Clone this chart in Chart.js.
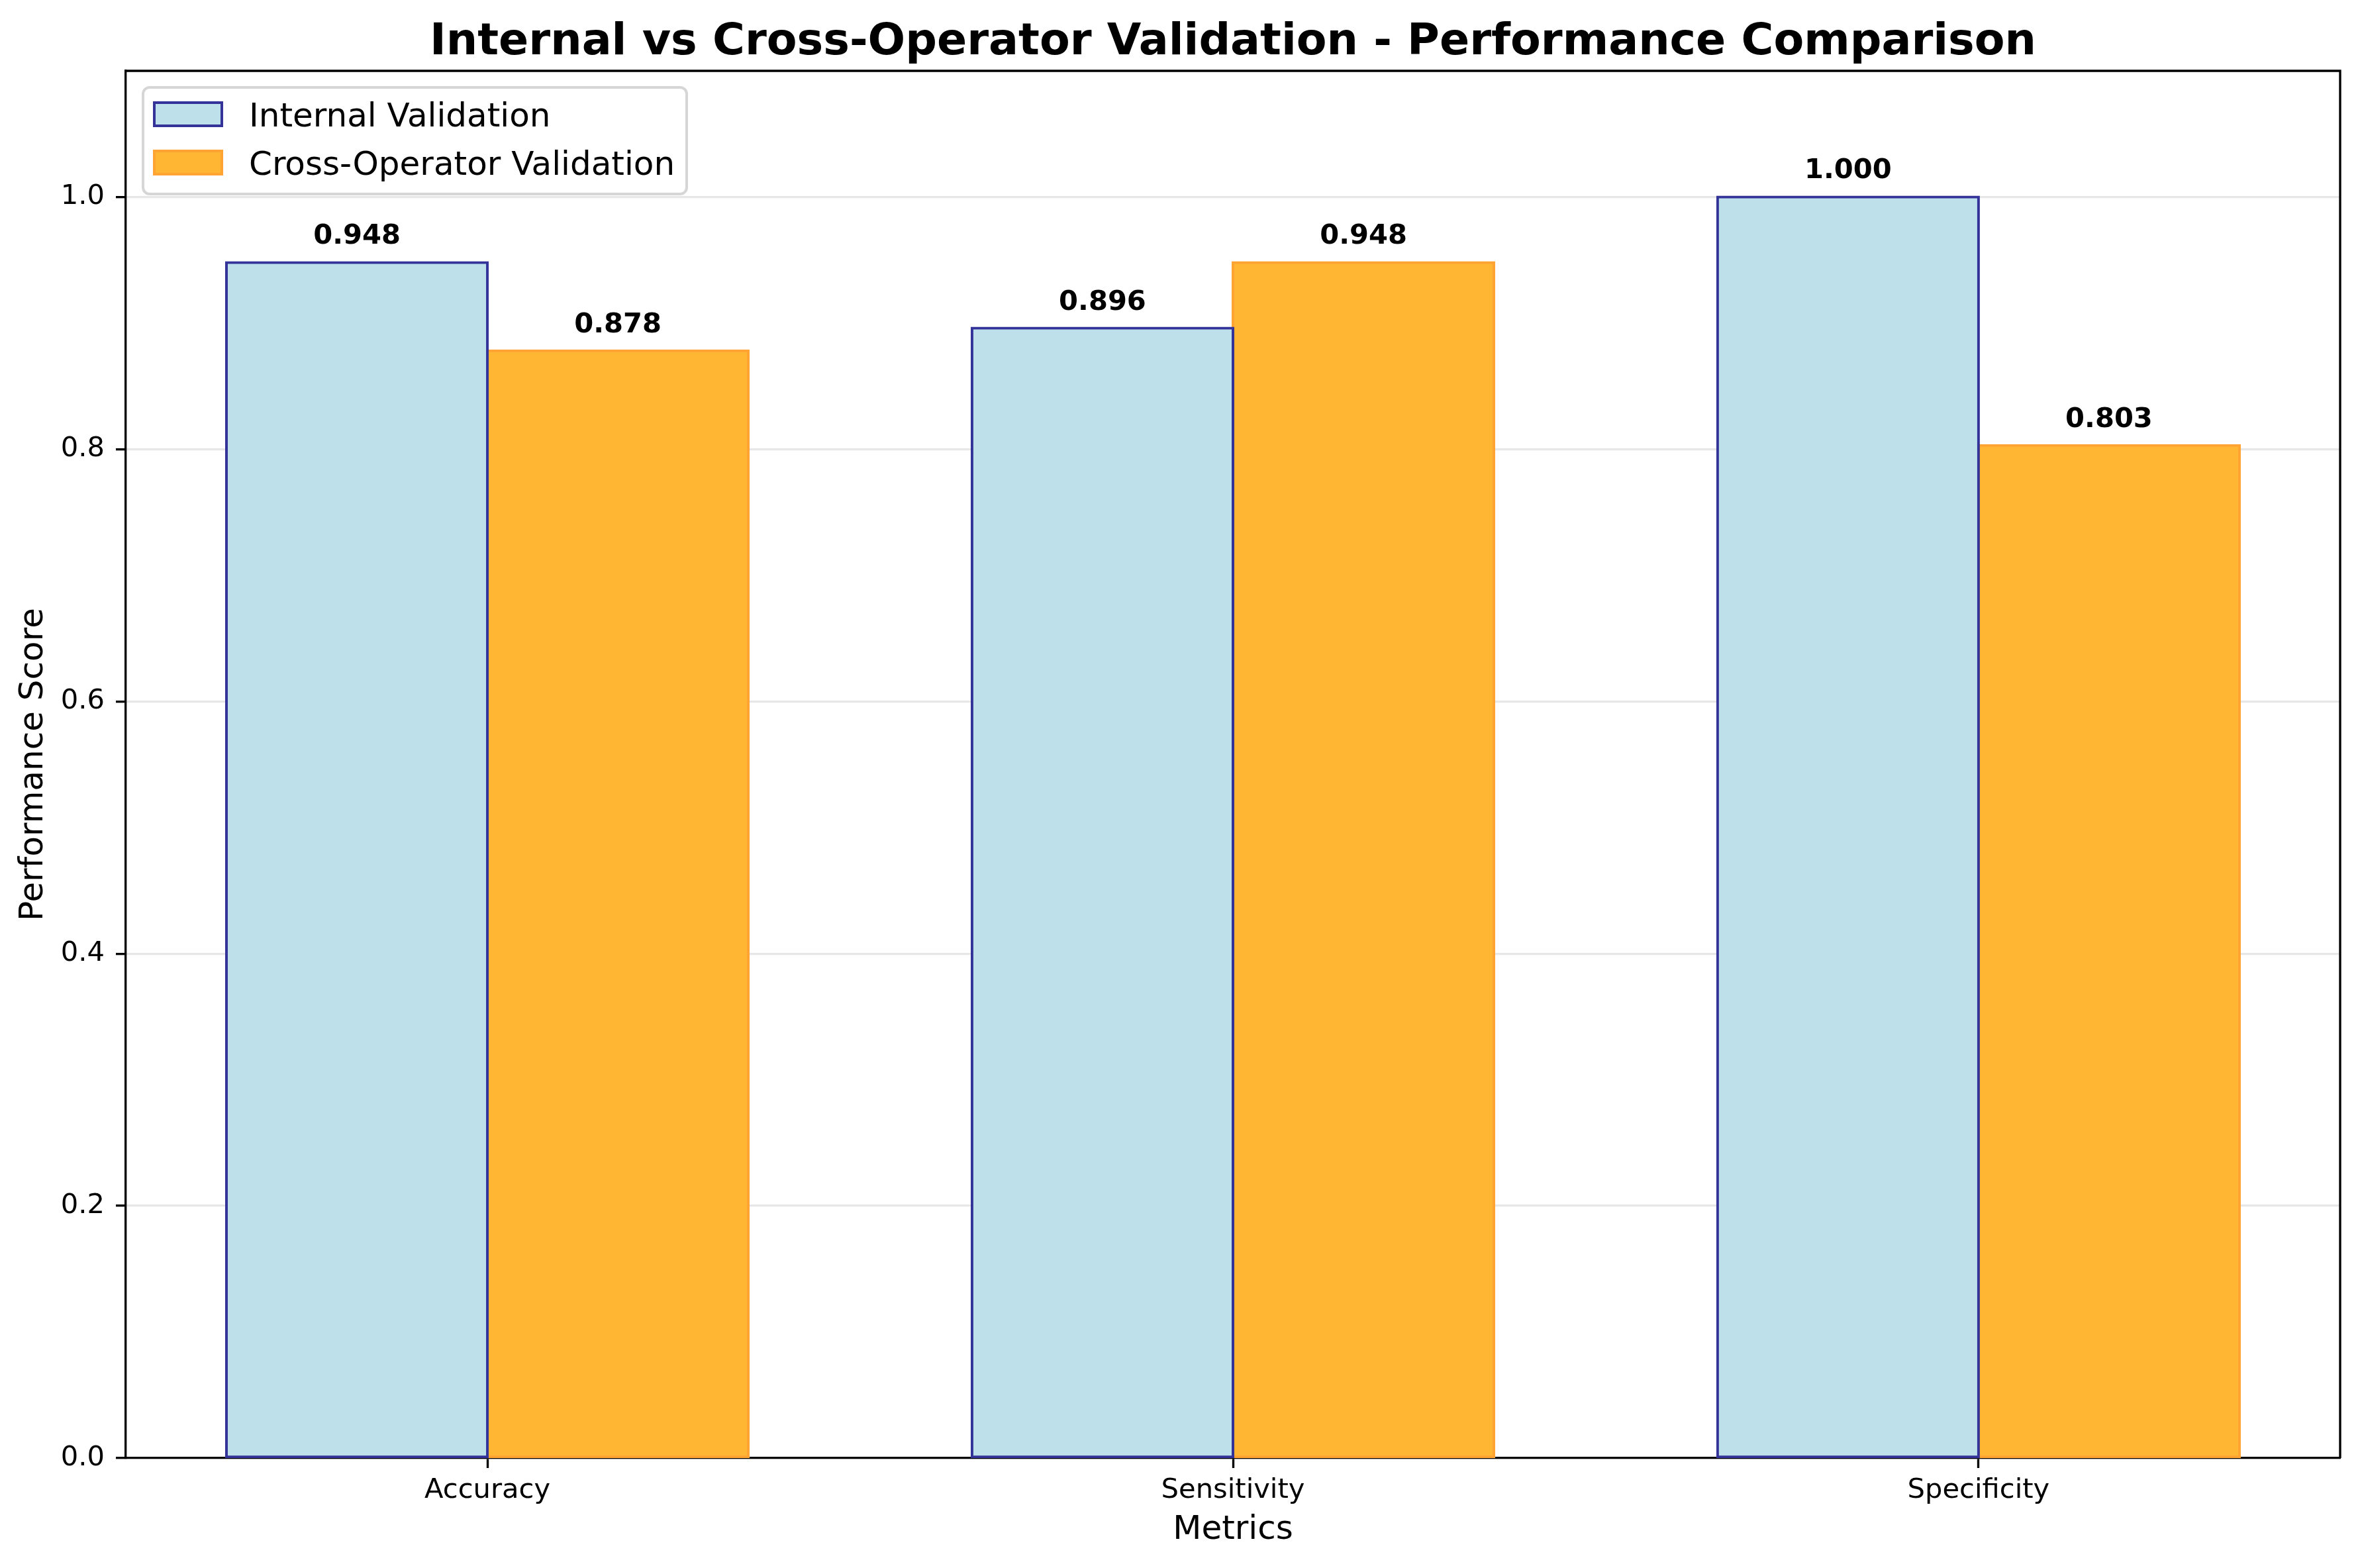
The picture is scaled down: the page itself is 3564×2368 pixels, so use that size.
<!DOCTYPE html>
<html><head><meta charset="utf-8">
<script src="https://cdn.jsdelivr.net/npm/chart.js@4.4.1/dist/chart.umd.min.js"></script>
<style>html,body{margin:0;padding:0;background:#fff;} canvas{display:block;}</style>
</head><body>
<canvas id="c" width="3564" height="2368" style="width:3564px;height:2368px"></canvas>
<script>
const titleText = 'Internal vs Cross-Operator Validation - Performance Comparison';
const categories = ['Accuracy', 'Sensitivity', 'Specificity'];
const internalValues = [0.948, 0.896, 1.000];
const crossValues = [0.878, 0.948, 0.803];
const seriesNames = ['Internal Validation', 'Cross-Operator Validation'];
const yTickValues = [0.0, 0.2, 0.4, 0.6, 0.8, 1.0];

const PT = 300 / 72;
const FONT = "'DejaVu Sans', sans-serif";

const overlay = {
  id: 'overlay',
  afterDraw(chart) {
    const ctx = chart.ctx, a = chart.chartArea;
    ctx.save();
    // top & right spines
    ctx.strokeStyle = '#000'; ctx.lineWidth = 0.8 * PT;
    ctx.beginPath(); ctx.moveTo(a.left, a.top); ctx.lineTo(a.right, a.top); ctx.lineTo(a.right, a.bottom); ctx.stroke();
    // value labels
    ctx.fillStyle = '#000'; ctx.textAlign = 'center'; ctx.textBaseline = 'alphabetic';
    ctx.font = `bold ${10 * PT}px ${FONT}`;
    chart.data.datasets.forEach((ds, di) => {
      const ys = chart.scales.y;
      chart.getDatasetMeta(di).data.forEach((bar, i) => {
        ctx.fillText(ds.data[i].y.toFixed(3), bar.x, ys.getPixelForValue(ds.data[i].y) - 28);
      });
    });
    // title
    ctx.font = `bold ${16 * PT}px ${FONT}`;
    ctx.fillText(titleText, (a.left + a.right) / 2, 82);
    // legend
    const lx = 216, ly = 132, lw = 821, lh = 161;
    ctx.beginPath(); ctx.roundRect(lx, ly, lw, lh, 10);
    ctx.fillStyle = 'rgba(255,255,255,0.8)'; ctx.fill();
    ctx.strokeStyle = 'rgba(204,204,204,0.8)'; ctx.lineWidth = 4; ctx.stroke();
    ctx.font = `${12 * PT}px ${FONT}`; ctx.textAlign = 'left';
    chart.data.datasets.forEach((ds, di) => {
      const cy = 172.5 + di * 73;
      ctx.fillStyle = ds.backgroundColor; ctx.fillRect(233, cy - 17.5, 102, 35);
      ctx.strokeStyle = ds.borderColor; ctx.lineWidth = 4; ctx.strokeRect(233, cy - 17.5, 102, 35);
      ctx.fillStyle = '#000'; ctx.fillText(ds.label, 376, cy + 18);
    });
    ctx.restore();
  }
};

const toPts = arr => arr.map((v, i) => ({ x: i, y: v }));

new Chart(document.getElementById('c'), {
  type: 'bar',
  data: {
    datasets: [
      { label: seriesNames[0], data: toPts(internalValues), backgroundColor: '#BDE0EB', borderColor: '#333399', borderWidth: 4, borderSkipped: false, inflateAmount: 2 },
      { label: seriesNames[1], data: toPts(crossValues), backgroundColor: '#FFB733', borderColor: '#FFA333', borderWidth: 4, borderSkipped: false, inflateAmount: 2 }
    ]
  },
  options: {
    responsive: false, animation: false, devicePixelRatio: 1,
    categoryPercentage: 0.7, barPercentage: 1.0,
    layout: { padding: { left: 0, top: 107, right: 30, bottom: 0 } },
    plugins: { legend: { display: false }, title: { display: false }, tooltip: { enabled: false } },
    scales: {
      x: {
        type: 'linear', min: -0.485, max: 2.485, offset: false, z: 2,
        afterBuildTicks: s => { s.ticks = categories.map((c, i) => ({ value: i })); },
        afterFit: s => { s.height = 166; },
        grid: { display: true, drawOnChartArea: false, drawTicks: true, offset: false, tickLength: 15, tickColor: '#000', tickWidth: 0.8 * PT },
        border: { display: true, color: '#000', width: 0.8 * PT },
        ticks: { autoSkip: false, maxRotation: 0, padding: 9, color: '#000', font: { family: FONT, size: 10 * PT }, callback: v => categories[v] },
        title: { display: true, text: 'Metrics', color: '#000', font: { family: FONT, size: 12 * PT }, padding: { top: 0, bottom: 27 } }
      },
      y: {
        min: 0, max: 1.1, z: 1,
        afterBuildTicks: s => { s.ticks = yTickValues.map(v => ({ value: v })); },
        afterFit: s => { s.width = 190; },
        grid: { color: 'rgba(176,176,176,0.3)', lineWidth: 0.8 * PT, tickLength: 15, tickColor: '#000', tickWidth: 0.8 * PT },
        border: { display: true, color: '#000', width: 0.8 * PT },
        ticks: { padding: 17, color: '#000', font: { family: FONT, size: 10 * PT }, callback: v => Number(v).toFixed(1) },
        title: { display: true, text: 'Performance Score', color: '#000', font: { family: FONT, size: 12 * PT }, padding: { top: 21, bottom: 0 } }
      }
    }
  },
  plugins: [overlay]
});
</script>
</body></html>
